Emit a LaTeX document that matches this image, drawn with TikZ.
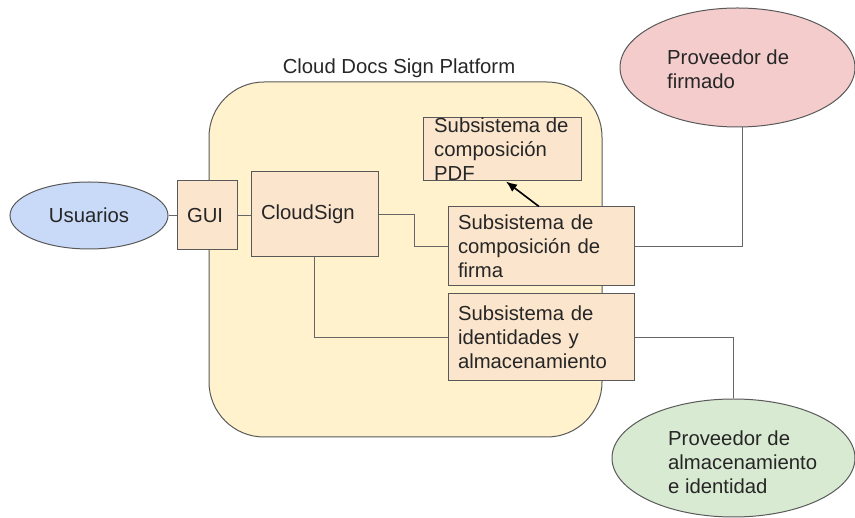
\documentclass[tikz,border=0pt]{standalone}
\usepackage{fontspec}
\setmainfont{Liberation Sans}
\usetikzlibrary{shapes.geometric, arrows.meta}

\definecolor{colPlat}{HTML}{FFF2CC}
\definecolor{colCaja}{HTML}{FCE5CD}
\definecolor{colAzul}{HTML}{C9DAF8}
\definecolor{colRojo}{HTML}{F4CCCC}
\definecolor{colVerde}{HTML}{D9EAD3}
\definecolor{colBorde}{HTML}{595959}
\definecolor{colLinea}{HTML}{666666}

\begin{document}
\begin{tikzpicture}[
        x=1pt, y=-1pt,
        every node/.style = {
            font=\fontsize{20.3}{24}\selectfont,
            text=black!85
        },
        texto/.style = {inner sep=0pt, align=left},
        caja/.style = {
            shape=rectangle,
            draw=colBorde,
            fill=colCaja,
            line width=1pt,
            inner xsep=10pt,
            inner ysep=0pt,
            align=left
        },
        actor/.style = {
            shape=ellipse,
            draw=colBorde,
            line width=1pt,
            inner sep=0pt
        },
        conector/.style = {draw=colLinea, line width=1pt},
        flecha/.style = {draw=black, line width=1.6pt, -{Latex[length=11pt, width=9pt]}}
    ]
    \useasboundingbox (0,0) rectangle (855,518);

    % PLATAFORMA
    \node[draw=colBorde, fill=colPlat, line width=1pt, rounded corners=55pt,
          minimum width=393pt, minimum height=355pt] (plataforma) at (405.5,259.5) {};
    \node[texto] (titulo) at (399,68) {Cloud Docs Sign Platform};

    % ACTORES
    \node[actor, fill=colAzul, minimum width=158pt, minimum height=67pt] (usuarios) at (89,215.5) {Usuarios};
    \node[actor, fill=colRojo, minimum width=235pt, minimum height=119pt] (firmado) at (737.5,67.5) {};
    \node[texto, anchor=west] (firmadotxt) at (667,69) {Proveedor de\\firmado};
    \node[actor, fill=colVerde, minimum width=243pt, minimum height=118pt] (almacen) at (733.5,458) {};
    \node[texto, anchor=west] (almacentxt) at (668,462) {Proveedor de\\almacenamiento\\e identidad};

    % SUBSISTEMAS
    \node[caja, text width=40pt, minimum height=69pt] (gui) at (207,215.5) {GUI};
    \node[caja, text width=107pt, minimum height=85pt] (cloud) at (314.5,214.5) {CloudSign};
    \node[caja, minimum width=158pt, minimum height=63pt] (pdf) at (502,149.5) {};
    \node[texto, anchor=west] (pdftxt) at (434,149.5) {Subsistema de\\composición\\PDF};
    \node[caja, text width=166pt, minimum height=79pt] (firma) at (541,246.5) {Subsistema de\\composición de\\firma};
    \node[caja, text width=166pt, minimum height=87pt] (ident) at (541,337.5) {Subsistema de\\identidades y\\almacenamiento};

    % CONEXIONES
    \draw[conector] (usuarios.east) -- (gui.west);
    \draw[conector] (gui.east) -- (cloud.west |- gui.east);
    \draw[conector] (cloud.east) -- ++(36,0) |- (firma.west);
    \draw[conector] (cloud.south) |- (ident.west);
    \draw[conector] (firma.east) -| ([xshift=5pt]firmado.south);
    \draw[conector] (ident.east) -| (almacen.north);
    \draw[flecha] ([xshift=-2pt]firma.north) -- ([xshift=4pt]pdf.south);
\end{tikzpicture}
\end{document}
